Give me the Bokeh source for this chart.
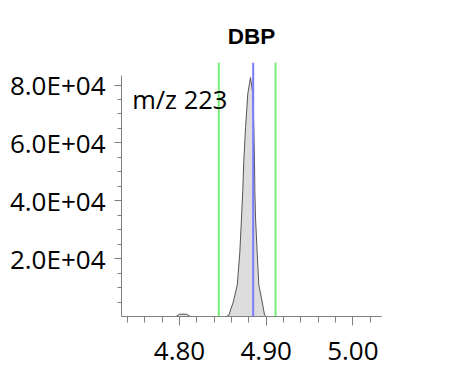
from bokeh.plotting import figure
from bokeh.models import Span, Label, FixedTicker, Range1d
from bokeh.embed import file_html
from bokeh.resources import INLINE

# Chromatogram trace (retention time, intensity)
rt = [4.734, 4.796, 4.800, 4.808, 4.8125, 4.854, 4.857, 4.862, 4.8666, 4.8696,
      4.8715, 4.873, 4.8742, 4.8762, 4.8788, 4.8819, 4.8846, 4.8857, 4.8865,
      4.8869, 4.8877, 4.8896, 4.8915, 4.8954, 4.8981, 4.900, 5.034]
intensity = [0, 0, 800, 800, 0, 0, 500, 5000, 10900, 22200,
             34000, 43600, 54000, 65300, 77100, 82600, 77100, 65300, 54000,
             43600, 34000, 22200, 10900, 5000, 500, 0, 0]

window_start = 4.8453
window_end = 4.9108
expected_rt = 4.885

compound = "DBP"
mz_label = "m/z 223"

x_ticks = [4.80, 4.90, 5.00]
x_tick_labels = ["4.80", "4.90", "5.00"]
x_minor = [4.74, 4.76, 4.78, 4.82, 4.84, 4.86, 4.88, 4.92, 4.94, 4.96, 4.98, 5.02]
y_ticks = [20000, 40000, 60000, 80000]
y_tick_labels = ["2.0E+04", "4.0E+04", "6.0E+04", "8.0E+04"]
y_minor = [5000, 10000, 15000, 25000, 30000, 35000, 45000, 50000, 55000,
           65000, 70000, 75000]

p = figure(width=434, height=378, output_backend="svg", toolbar_location=None,
           x_range=Range1d(4.7331, 5.033), y_range=Range1d(0, 87800),
           min_border_left=121, min_border_right=53, min_border_top=62,
           min_border_bottom=62)

p.title.text = compound
p.title.align = "center"
p.title.text_font = "Liberation Sans"
p.title.text_font_size = "22.5px"
p.title.text_font_style = "bold"
p.title.text_color = "black"
p.title.text_line_height = 0.8
p.title.standoff = 28

p.outline_line_color = None
p.xgrid.visible = False
p.ygrid.visible = False

p.varea(x=rt, y1=0, y2=intensity, fill_color="#dcdcdc")
p.line(x=rt, y=intensity, line_color="#555555", line_width=1)

for loc, col in [(window_start, "#77ee77"), (window_end, "#77ee77"), (expected_rt, "#7b7bff")]:
    p.add_layout(Span(location=loc, dimension="height", line_color=col, line_width=2))

p.add_layout(Label(x=4.7454, y=75250, text=mz_label, text_font="Open Sans",
                   text_font_size="25.5px", text_color="black", text_baseline="alphabetic"))

for ax in (p.xaxis[0], p.yaxis[0]):
    ax.axis_line_color = "#808080"
    ax.major_tick_line_color = "#808080"
    ax.minor_tick_line_color = "#808080"
    ax.major_tick_in = 0
    ax.minor_tick_in = 0
    ax.major_label_text_font = "Open Sans"
    ax.major_label_text_font_size = "26px"
    ax.major_label_text_color = "black"

p.xaxis.ticker = FixedTicker(ticks=x_ticks, minor_ticks=x_minor)
p.xaxis.major_label_overrides = dict(zip(x_ticks, x_tick_labels))
p.xaxis.major_tick_out = 9
p.xaxis.minor_tick_out = 6
p.xaxis.major_label_standoff = 16

p.yaxis.ticker = FixedTicker(ticks=y_ticks, minor_ticks=y_minor)
p.yaxis.major_label_overrides = dict(zip(y_ticks, y_tick_labels))
p.yaxis.major_tick_out = 7
p.yaxis.minor_tick_out = 4
p.yaxis.major_label_standoff = 9
p.yaxis.bounds = (0, 83300)

open("out.html", "w").write(file_html(p, INLINE))
